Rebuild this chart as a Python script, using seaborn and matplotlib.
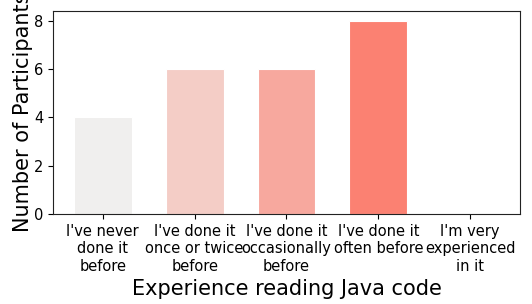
import matplotlib
matplotlib.use("Agg")
import matplotlib.pyplot as plt
import seaborn as sns
import pandas as pd

categories = [
    "I've never\ndone it\nbefore",
    "I've done it\nonce or twice\nbefore",
    "I've done it\noccasionally\nbefore",
    "I've done it\noften before",
    "I'm very\nexperienced\nin it",
]
counts = [4, 6, 6, 8, 0]
colors = ["#f0efee", "#f4cdc6", "#f7a89e", "#fb8172", "#e8503e"]

sns.set_style("ticks")
plt.rcParams['font.family'] = ['DejaVu Sans']
plt.rcParams['text.color'] = 'black'
plt.rcParams['axes.labelcolor'] = 'black'
plt.rcParams['xtick.color'] = 'black'
plt.rcParams['ytick.color'] = 'black'

df = pd.DataFrame({"experience": categories, "count": counts})

fig, ax = plt.subplots(figsize=(5.32, 3.04), dpi=100)
fig.subplots_adjust(left=0.1, right=0.977, top=0.964, bottom=0.296)

sns.barplot(data=df, x="experience", y="count", hue="experience",
            palette=colors, legend=False, width=0.63, ax=ax,
            saturation=1, edgecolor="white", linewidth=0.8)

ax.set_xlim(-0.54, 4.54)
ax.set_ylim(0, 8.4)
ax.set_yticks([0, 2, 4, 6, 8])
ax.tick_params(axis="both", labelsize=10.5, length=3.5, labelcolor="black")
ax.set_xlabel("Experience reading Java code", fontsize=15)
ax.set_ylabel("Number of Participants", fontsize=15, labelpad=1)
for side in ["top", "right", "left", "bottom"]:
    ax.spines[side].set_visible(True)
    ax.spines[side].set_color("#222222")

fig.savefig("out.png", dpi=100)
